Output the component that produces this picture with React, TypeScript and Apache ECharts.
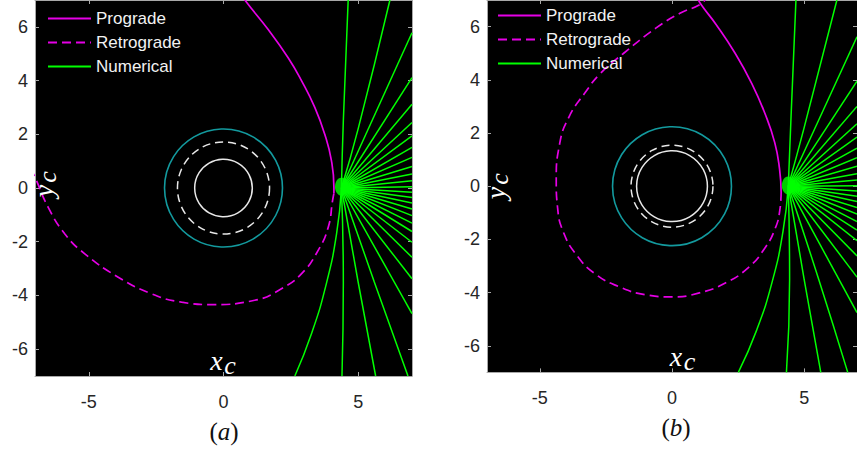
import React, { useEffect, useRef } from 'react';
import * as echarts from 'echarts';

// ---------- data ----------
const xTicks = [-5, 0, 5];
const yTicks = [-6, -4, -2, 0, 2, 4, 6];
const legendNames = ['Prograde', 'Retrograde', 'Numerical'];
const panelNames = ['a', 'b'];

// circle radii, [panel a, panel b]
const solidCircleR = [1.07, 1.34];
const dashedCircleR = [1.71, 1.55];
const tealCircleR = [2.19, 2.25];

const sourceA: number[] = [4.38, 0.05];
const sourceB: number[] = [4.4, 0.03];

const progradeA: number[][] = [
  [0.75, 7.1], [0.82, 6.96], [1.66, 5.9], [2.4, 4.85], [2.9, 3.99], [3.39, 3.0],
  [3.76, 2.0], [4.01, 1.01], [4.1, 0.02], [4.1, -0.2],
];
const retrogradeA: number[][] = [
  [4.1, -0.2], [4.05, -0.47], [3.89, -1.46], [3.51, -2.33], [2.9, -3.19], [2.15, -3.75],
  [1.16, -4.18], [-0.45, -4.34], [-1.56, -4.25], [-2.67, -3.94], [-3.91, -3.32],
  [-5.15, -2.45], [-5.89, -1.71], [-6.51, -0.72], [-7.0, 0.4], [-7.3, 1.0],
];
const progradeB: number[][] = [
  [0.95, 7.1], [1.1, 6.83], [1.66, 6.09], [2.4, 4.98], [3.02, 3.86], [3.51, 2.75],
  [3.89, 1.63], [4.07, 0.64], [4.13, -0.22],
];
const retrogradeB: number[][] = [
  [4.13, -0.22], [4.08, -0.9], [3.9, -1.6], [3.51, -2.33], [2.9, -3.05], [2.0, -3.65],
  [1.0, -4.02], [0.0, -4.16], [-1.0, -4.08], [-2.0, -3.78], [-2.9, -3.3], [-3.6, -2.6],
  [-4.1, -1.75], [-4.33, -0.8], [-4.38, 0.2], [-4.25, 1.6], [-3.9, 2.6], [-3.3, 3.5],
  [-2.7, 4.25], [-1.85, 4.98], [-0.6, 5.95], [0.3, 6.5], [1.1, 6.85], [1.3, 7.1],
];

const raysA: number[][][] = [
  [[4.38, 0], [4.45, 2.5], [4.63, 7]],
  [[4.38, 0], [5.0, 2.2], [6.18, 7]],
  [[4.38, 0], [7, 5.78]],
  [[4.38, 0], [7, 4.11]],
  [[4.38, 0], [7, 3.12]],
  [[4.38, 0], [7, 2.44]],
  [[4.38, 0], [7, 1.94]],
  [[4.38, 0], [7, 1.51]],
  [[4.38, 0], [7, 1.14]],
  [[4.38, 0], [7, 0.8]],
  [[4.38, 0], [7, 0.52]],
  [[4.38, 0], [7, 0.27]],
  [[4.38, 0], [7, 0.05]],
  [[4.38, 0], [7, -0.16]],
  [[4.38, 0], [7, -0.35]],
  [[4.38, 0], [7, -0.56]],
  [[4.38, 0], [7, -0.78]],
  [[4.38, 0], [7, -1.03]],
  [[4.38, 0], [7, -1.31]],
  [[4.38, 0], [7, -1.62]],
  [[4.38, 0], [7, -2.02]],
  [[4.38, 0], [7, -2.58]],
  [[4.38, 0], [7, -3.38]],
  [[4.38, 0], [7, -4.68]],
  [[4.38, 0], [5.6, -3.5], [6.85, -7]],
  [[4.38, 0], [5.0, -3.5], [5.65, -7]],
  [[4.38, 0], [4.45, -3.5], [4.4, -7]],
  [[4.38, 0], [4.2, -1.7], [3.82, -3.56], [3.27, -5.42], [2.65, -7]],
];
const raysB: number[][][] = [
  [[4.4, 0], [4.5, 2.5], [4.69, 7]],
  [[4.4, 0], [5.0, 2.2], [6.24, 7]],
  [[4.4, 0], [7, 5.62]],
  [[4.4, 0], [7, 3.95]],
  [[4.4, 0], [7, 3.0]],
  [[4.4, 0], [7, 2.35]],
  [[4.4, 0], [7, 1.85]],
  [[4.4, 0], [7, 1.43]],
  [[4.4, 0], [7, 1.07]],
  [[4.4, 0], [7, 0.75]],
  [[4.4, 0], [7, 0.47]],
  [[4.4, 0], [7, 0.23]],
  [[4.4, 0], [7, 0.02]],
  [[4.4, 0], [7, -0.18]],
  [[4.4, 0], [7, -0.38]],
  [[4.4, 0], [7, -0.58]],
  [[4.4, 0], [7, -0.8]],
  [[4.4, 0], [7, -1.05]],
  [[4.4, 0], [7, -1.33]],
  [[4.4, 0], [7, -1.65]],
  [[4.4, 0], [7, -2.05]],
  [[4.4, 0], [7, -2.62]],
  [[4.4, 0], [7, -3.42]],
  [[4.4, 0], [7, -4.75]],
  [[4.4, 0], [5.55, -3.5], [6.65, -7]],
  [[4.4, 0], [5.0, -3.5], [5.63, -7]],
  [[4.4, 0], [4.45, -3.5], [4.33, -7]],
  [[4.4, 0], [4.2, -1.7], [3.8, -3.56], [3.2, -5.42], [2.51, -7]],
];

// ---------- styles ----------
const SANS = '"Liberation Sans", Arial, Helvetica, sans-serif';
const SERIF = '"Liberation Serif", "Times New Roman", serif';
const AXIS_GRAY = '#a8a8a8';
const MAGENTA = '#e600e6';
const GREEN = '#00ff00';
const TEAL = '#139a9e';
const WHITE = '#e8e8e8';

const panels = [
  { grid: { left: 35, top: -1, width: 377, height: 377 }, prograde: progradeA, retrograde: retrogradeA, rays: raysA, src: sourceA, legend: { left: 47, top: 10 } },
  { grid: { left: 487, top: -4.6, width: 377, height: 377 }, prograde: progradeB, retrograde: retrogradeB, rays: raysB, src: sourceB, legend: { left: 497, top: 7 } },
];

const ringRenderer = (stroke: string, dash: number[] | null, width: number) => (params: any, api: any) => {
  const c = api.coord([api.value(0), api.value(1)]);
  const r = api.size([api.value(2), 0])[0];
  return {
    type: 'circle',
    shape: { cx: c[0], cy: c[1], r },
    style: { fill: 'none', stroke, lineWidth: width, lineDash: dash || undefined },
  };
};

function axisCommon(showLabel: boolean, ticks: number[], margin: number) {
  return {
    type: 'value',
    min: -7,
    max: 7,
    splitLine: { show: false },
    axisLine: { show: true, onZero: false, lineStyle: { color: AXIS_GRAY, width: 1 } },
    axisTick: { show: true, inside: true, length: 4, customValues: ticks, lineStyle: { color: AXIS_GRAY } },
    axisLabel: { show: showLabel, customValues: ticks, color: '#262626', fontSize: 18, fontFamily: SANS, margin },
  };
}

function buildOption() {
  const grid: any[] = [];
  const xAxis: any[] = [];
  const yAxis: any[] = [];
  const series: any[] = [];
  const legend: any[] = [];
  const graphic: any[] = [];

  panels.forEach((p, i) => {
    grid.push({ ...p.grid, show: true, backgroundColor: '#000000', borderWidth: 0, containLabel: false });
    xAxis.push({ ...axisCommon(true, xTicks, 17), gridIndex: i, position: 'bottom' });
    xAxis.push({ ...axisCommon(false, xTicks, 8), gridIndex: i, position: 'top' });
    yAxis.push({ ...axisCommon(true, yTicks, 7), gridIndex: i, position: 'left' });
    yAxis.push({ ...axisCommon(false, yTicks, 8), gridIndex: i, position: 'right' });

    const ax = { xAxisIndex: 2 * i, yAxisIndex: 2 * i };
    series.push({ type: 'custom', ...ax, clip: true, silent: true, data: [[0, 0, tealCircleR[i]]], renderItem: ringRenderer(TEAL, null, 1.6), z: 2 });
    series.push({ type: 'custom', ...ax, clip: true, silent: true, data: [[0, 0, dashedCircleR[i]]], renderItem: ringRenderer(WHITE, [8, 5], 1.5), z: 2 });
    series.push({ type: 'custom', ...ax, clip: true, silent: true, data: [[0, 0, solidCircleR[i]]], renderItem: ringRenderer(WHITE, null, 1.5), z: 2 });

    series.push({
      name: 'Prograde', type: 'line', ...ax, data: p.prograde, smooth: true, symbol: 'none', clip: true,
      itemStyle: { color: MAGENTA }, lineStyle: { color: MAGENTA, width: 1.7 }, z: 3,
    });
    series.push({
      name: 'Retrograde', type: 'line', ...ax, data: p.retrograde, smooth: true, symbol: 'none', clip: true,
      itemStyle: { color: MAGENTA }, lineStyle: { color: MAGENTA, width: 1.7, type: [9, 5] }, z: 3,
    });
    p.rays.forEach((ray) => {
      series.push({
        name: 'Numerical', type: 'line', ...ax, data: ray, smooth: true, symbol: 'none', clip: true,
        itemStyle: { color: GREEN }, lineStyle: { color: GREEN, width: 1.5 }, z: 4,
      });
    });
    series.push({
      type: 'scatter', ...ax, data: [p.src], symbol: 'circle', symbolSize: [13, 18],
      itemStyle: { color: GREEN }, silent: true, z: 5,
    });

    legend.push({
      orient: 'vertical', left: p.legend.left, top: p.legend.top, padding: 0,
      itemWidth: 43, itemHeight: 14, itemGap: 7, selectedMode: false,
      data: legendNames,
      itemStyle: { opacity: 0, color: 'rgba(0,0,0,0)', borderWidth: 0 },
      textStyle: { color: '#f2f2f2', fontSize: 17, fontFamily: SANS },
    });
  });

  const italic = (text: string, x: number, y: number, size: number, rotation = 0) => ({
    type: 'text', x, y, rotation, z: 100,
    style: {
      text, fill: '#ffffff', fontFamily: SERIF, fontSize: size, fontStyle: 'italic',
      align: 'center', verticalAlign: 'middle',
    },
  });
  // axis names inside plots
  graphic.push(italic('x', 216.5, 360, 28));
  graphic.push(italic('c', 230, 365, 26));
  graphic.push(italic('y', 43, 191, 28, Math.PI / 2));
  graphic.push(italic('c', 47, 177, 26, Math.PI / 2));
  graphic.push(italic('x', 676, 356, 28));
  graphic.push(italic('c', 689.5, 361, 26));
  graphic.push(italic('y', 495, 193, 28, Math.PI / 2));
  graphic.push(italic('c', 499, 179, 26, Math.PI / 2));
  // panel captions
  const caps = [[224, 431], [676, 427]];
  panelNames.forEach((n, i) => {
    graphic.push({
      type: 'text', x: caps[i][0], y: caps[i][1], z: 100,
      style: {
        text: `{p|(}{i|${n}}{p|)}`, align: 'center', verticalAlign: 'middle', fill: '#111',
        rich: {
          p: { fontFamily: SERIF, fontSize: 25, fill: '#111' },
          i: { fontFamily: SERIF, fontSize: 25, fontStyle: 'italic', fill: '#111' },
        },
      },
    });
  });

  return {
    animation: false,
    backgroundColor: '#ffffff',
    grid, xAxis, yAxis, series, legend, graphic,
  };
}

export default function App() {
  const ref = useRef<HTMLDivElement>(null);
  useEffect(() => {
    const chart = echarts.init(ref.current!, null, { renderer: 'svg' });
    chart.setOption(buildOption() as any);
    return () => chart.dispose();
  }, []);
  return (
    <div
      ref={ref}
      style={{ position: 'absolute', left: 0, top: 0, width: 857, height: 453, background: '#fff', overflow: 'hidden' }}
    />
  );
}
